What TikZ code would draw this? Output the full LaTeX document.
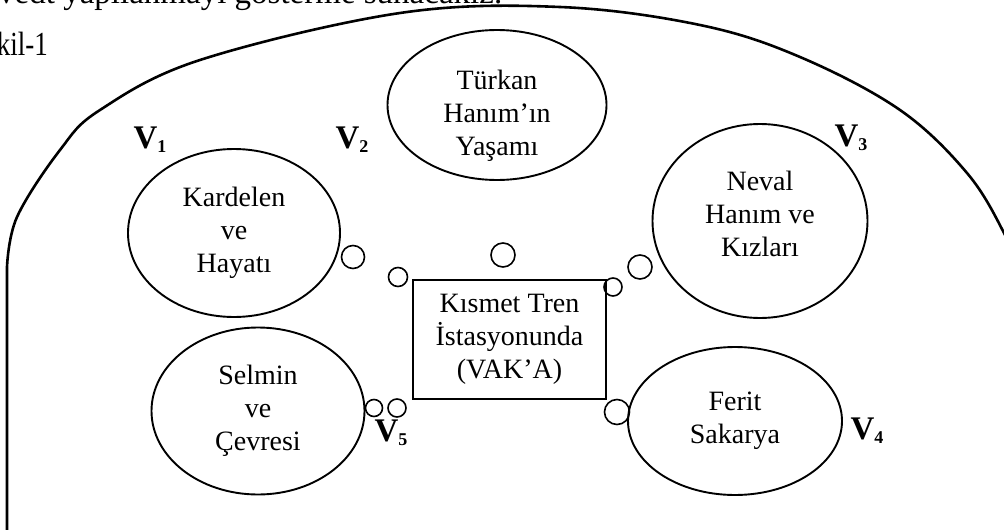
\documentclass[tikz,border=0pt]{standalone}
\usepackage{fontspec}
\setmainfont{Liberation Serif}
\newfontfamily\capfont{Liberation Serif}[FakeStretch=0.8]
\usetikzlibrary{shapes.geometric}

\newcommand{\vlab}[1]{{\bfseries\fontsize{33}{33}\selectfont V\raisebox{-4pt}{\fontsize{18}{18}\selectfont #1}}}

\begin{document}
\begin{tikzpicture}[x=1pt,y=-1pt,
    olay/.style={draw,ellipse,line width=1.9pt,inner sep=0pt,align=center,
        font=\fontsize{28}{33}\selectfont},
    metin/.style={align=center,inner sep=0pt,font=\fontsize{28}{33}\selectfont},
    kucuk/.style={draw,circle,line width=1.6pt,inner sep=0pt,minimum size=#1},
    etiket/.style={inner sep=0pt}]
\useasboundingbox (0,0) rectangle (1004,530);
\clip (0,0) rectangle (1004,530);
% cropped lines of the page
\node[anchor=base west,inner sep=0pt,font=\fontsize{33}{33}\selectfont] (ust) at (-2,4) {vedt yapılanmayı gösterme sunacakız.};
\node[anchor=base east,inner sep=0pt,font=\capfont\fontsize{33.7}{33}\selectfont] (sekil) at (48,55) {kil-1};
% outer frame
\draw[line width=2.6pt] (7,535) -- (7,267) plot[smooth,tension=0.6] coordinates {(7,267) (17,217) (60,150) (100,110) (200,60) (400,13) (560,7) (700,25) (800,57) (900,110) (967,173) (1004,233) (1020,275)};
% events
\node[olay,minimum width=219pt,minimum height=150pt,
    label={[metin,yshift=-11pt]center:Türkan\\Hanım’ın\\Yaşamı}] (turkan) at (497,105) {};
\node[olay,minimum width=212pt,minimum height=168pt] (kardelen) at (234,233) {Kardelen\\ve\\Hayatı};
\node[olay,minimum width=215pt,minimum height=194pt,
    label={[metin,yshift=7pt]center:Neval\\Hanım ve\\Kızları}] (neval) at (760,221) {};
\node[olay,minimum width=213pt,minimum height=167pt] (selmin) at (258,411) {Selmin\\ve\\Çevresi};
\node[olay,minimum width=214pt,minimum height=148pt] (ferit) at (735,421) {Ferit\\Sakarya};
\node[draw,line width=2pt,minimum width=193pt,minimum height=119pt,metin] (vaka) at (509.5,339.5) {Kısmet Tren\\İstasyonunda\\(VAK’A)};
% small circles
\node[kucuk=23pt] (k1) at (353,257) {};
\node[kucuk=19pt] (k2) at (398,277) {};
\node[kucuk=24pt] (k3) at (503,255) {};
\node[kucuk=24pt] (k4) at (640,267) {};
\node[kucuk=18pt] (k5) at (613,287) {};
\node[kucuk=17pt] (k6) at (374,408) {};
\node[kucuk=18pt] (k7) at (397,408) {};
\node[kucuk=25pt] (k8) at (617,412) {};
% V labels
\node[etiket] (v1) at (150,140) {\vlab{1}};
\node[etiket] (v2) at (352,140) {\vlab{2}};
\node[etiket] (v3) at (851,138) {\vlab{3}};
\node[etiket] (v4) at (867,431) {\vlab{4}};
\node[etiket] (v5) at (391,433) {\vlab{5}};
\end{tikzpicture}
\end{document}
